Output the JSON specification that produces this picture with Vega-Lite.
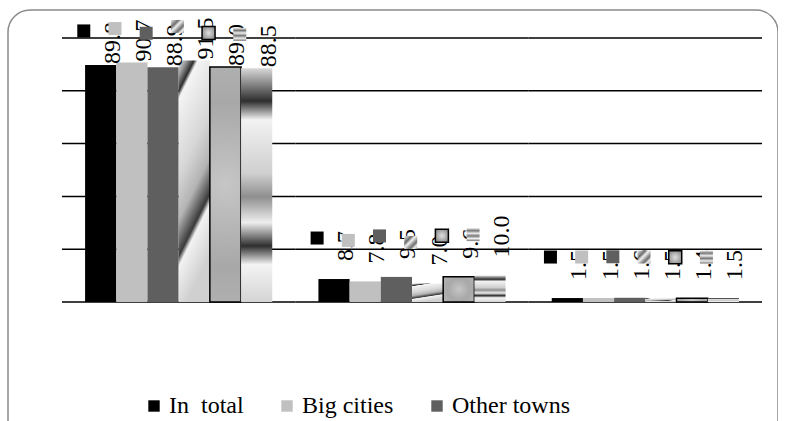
{
  "$schema": "https://vega.github.io/schema/vega-lite/v6.json",
  "autosize": "none",
  "width": 770,
  "height": 440,
  "padding": {"left": 8, "top": 10, "right": 0, "bottom": 0},
  "background": "white",
  "config": {
    "view": {"stroke": "#8a8a8a", "strokeWidth": 1.5, "cornerRadius": 22, "fill": "white"}
  },
  "datasets": {
    "shares": [
      {"group": "A", "series": "In\u00a0 total", "value": 89.8},
      {"group": "A", "series": "Big cities", "value": 90.7},
      {"group": "A", "series": "Other towns", "value": 88.9},
      {"group": "A", "series": "Men", "value": 91.5},
      {"group": "A", "series": "Women", "value": 89.0},
      {"group": "A", "series": "Rural", "value": 88.5},
      {"group": "B", "series": "In\u00a0 total", "value": 8.7},
      {"group": "B", "series": "Big cities", "value": 7.8},
      {"group": "B", "series": "Other towns", "value": 9.5},
      {"group": "B", "series": "Men", "value": 7.0},
      {"group": "B", "series": "Women", "value": 9.6},
      {"group": "B", "series": "Rural", "value": 10.0},
      {"group": "C", "series": "In\u00a0 total", "value": 1.5},
      {"group": "C", "series": "Big cities", "value": 1.5},
      {"group": "C", "series": "Other towns", "value": 1.6},
      {"group": "C", "series": "Men", "value": 1.5},
      {"group": "C", "series": "Women", "value": 1.4},
      {"group": "C", "series": "Rural", "value": 1.5}
    ],
    "grid": [
      {"group": "A", "level": 0}, {"group": "B", "level": 0}, {"group": "C", "level": 0},
      {"group": "A", "level": 20}, {"group": "B", "level": 20}, {"group": "C", "level": 20},
      {"group": "A", "level": 40}, {"group": "B", "level": 40}, {"group": "C", "level": 40},
      {"group": "A", "level": 60}, {"group": "B", "level": 60}, {"group": "C", "level": 60},
      {"group": "A", "level": 80}, {"group": "B", "level": 80}, {"group": "C", "level": 80},
      {"group": "A", "level": 100}, {"group": "B", "level": 100}, {"group": "C", "level": 100}
    ]
  },
  "layer": [
    {
      "data": {"name": "grid"},
      "mark": {"type": "rect", "stroke": "black", "strokeWidth": 1.5, "fill": null},
      "encoding": {
        "x": {"field": "group", "type": "nominal", "axis": null,
              "scale": {"domain": ["A", "B", "C"], "range": [54, 754], "paddingInner": 0, "paddingOuter": 0}},
        "y": {"field": "level", "type": "quantitative", "axis": null,
              "scale": {"domain": [0, 100], "range": [292, 28], "nice": false}},
        "y2": {"field": "level"}
      }
    },
    {
      "data": {"name": "shares"},
      "mark": {"type": "bar", "strokeWidth": 1.5},
      "encoding": {
        "x": {"field": "group", "type": "nominal", "axis": null},
        "xOffset": {"field": "series", "type": "nominal",
                    "scale": {"domain": ["In\u00a0 total", "Big cities", "Other towns", "Men", "Women", "Rural"], "paddingInner": 0, "paddingOuter": 0.74}},
        "y": {"field": "value", "type": "quantitative", "axis": null},
        "fill": {
          "field": "series", "type": "nominal",
          "scale": {
            "domain": ["In\u00a0 total", "Big cities", "Other towns", "Men", "Women", "Rural"],
            "range": ["#000000", "#c0c0c0", "#5f5f5f", "#9a9a9a", "#b4b4b4", "#bdbdbd"]
          },
          "legend": {
            "orient": "none", "legendX": 134, "legendY": 384,
            "direction": "horizontal", "columns": 3,
            "title": null, "symbolType": "square", "symbolSize": 130, "symbolStrokeWidth": 0,
            "labelFont": "Liberation Serif", "labelFontSize": 24, "labelColor": "black",
            "labelOffset": 3, "columnPadding": 31, "rowPadding": 10, "labelLimit": 300
          },
          "condition": [
            {"test": "datum.series === 'Men'", "value": {"gradient": "linear", "x1": 0, "y1": 0, "x2": 0.26, "y2": 1,
              "stops": [{"offset": 0, "color": "#eeeeee"}, {"offset": 0.06, "color": "#9a9a9a"}, {"offset": 0.12, "color": "#2e2e2e"}, {"offset": 0.15, "color": "#f4f4f4"}, {"offset": 0.45, "color": "#d6d6d6"}, {"offset": 0.62, "color": "#b4b4b4"}, {"offset": 0.76, "color": "#3a3a3a"}, {"offset": 0.8, "color": "#f2f2f2"}, {"offset": 1, "color": "#d0d0d0"}]}},
            {"test": "datum.series === 'Women'", "value": {"gradient": "radial", "x1": 0.5, "y1": 0.5, "r1": 0, "x2": 0.5, "y2": 0.5, "r2": 0.7,
              "stops": [{"offset": 0, "color": "#c6c6c6"}, {"offset": 0.5, "color": "#a8a8a8"}, {"offset": 1, "color": "#b8b8b8"}]}},
            {"test": "datum.series === 'Rural'", "value": {"gradient": "linear", "x1": 0, "y1": 0, "x2": 0, "y2": 1,
              "stops": [{"offset": 0, "color": "#d8d8d8"}, {"offset": 0.14, "color": "#2e2e2e"}, {"offset": 0.22, "color": "#f2f2f2"}, {"offset": 0.45, "color": "#cfcfcf"}, {"offset": 0.55, "color": "#8f8f8f"}, {"offset": 0.66, "color": "#eeeeee"}, {"offset": 0.76, "color": "#2e2e2e"}, {"offset": 0.84, "color": "#f4f4f4"}, {"offset": 1, "color": "#d4d4d4"}]}}
          ]
        },
        "stroke": {"condition": {"test": "datum.series === 'Women'", "value": "black"}, "value": null}
      }
    },
    {
      "data": {"name": "shares"},
      "mark": {"type": "text", "angle": 270, "align": "left", "baseline": "middle",
               "font": "Liberation Serif", "fontSize": 24, "color": "black",
               "dy": 12, "dx": {"expr": "datum.value > 50 ? 1 : 18"}},
      "encoding": {
        "x": {"field": "group", "type": "nominal", "axis": null},
        "xOffset": {"field": "series", "type": "nominal"},
        "y": {"field": "value", "type": "quantitative", "axis": null},
        "text": {"field": "value", "type": "quantitative", "format": ".1f"}
      }
    },
    {
      "data": {"name": "shares"},
      "mark": {"type": "point", "filled": true, "opacity": 1, "size": 169, "strokeWidth": 1.5,
               "shape": "M-3.6,-1L-1.6,-1L-1.6,1L-3.6,1Z",
               "yOffset": {"expr": "datum.value > 50 ? -34 : -41"}},
      "encoding": {
        "x": {"field": "group", "type": "nominal", "axis": null},
        "xOffset": {"field": "series", "type": "nominal"},
        "y": {"field": "value", "type": "quantitative", "axis": null},
        "fill": {
          "field": "series", "type": "nominal",
          "condition": [
            {"test": "datum.series === 'Men'", "value": {"gradient": "linear", "x1": 0, "y1": 0, "x2": 1, "y2": 1,
              "stops": [{"offset": 0, "color": "#f0f0f0"}, {"offset": 0.3, "color": "#6e6e6e"}, {"offset": 0.45, "color": "#f0f0f0"}, {"offset": 0.7, "color": "#6e6e6e"}, {"offset": 0.85, "color": "#f0f0f0"}, {"offset": 1, "color": "#909090"}]}},
            {"test": "datum.series === 'Women'", "value": {"gradient": "radial", "x1": 0.5, "y1": 0.5, "r1": 0, "x2": 0.5, "y2": 0.5, "r2": 0.7,
              "stops": [{"offset": 0, "color": "#e0e0e0"}, {"offset": 1, "color": "#7a7a7a"}]}},
            {"test": "datum.series === 'Rural'", "value": {"gradient": "linear", "x1": 0, "y1": 0, "x2": 0, "y2": 1,
              "stops": [{"offset": 0, "color": "#eeeeee"}, {"offset": 0.2, "color": "#777777"}, {"offset": 0.4, "color": "#eeeeee"}, {"offset": 0.6, "color": "#777777"}, {"offset": 0.8, "color": "#eeeeee"}, {"offset": 1, "color": "#777777"}]}}
          ]
        },
        "stroke": {"condition": {"test": "datum.series === 'Women'", "value": "black"}, "value": null}
      }
    }
  ]
}
